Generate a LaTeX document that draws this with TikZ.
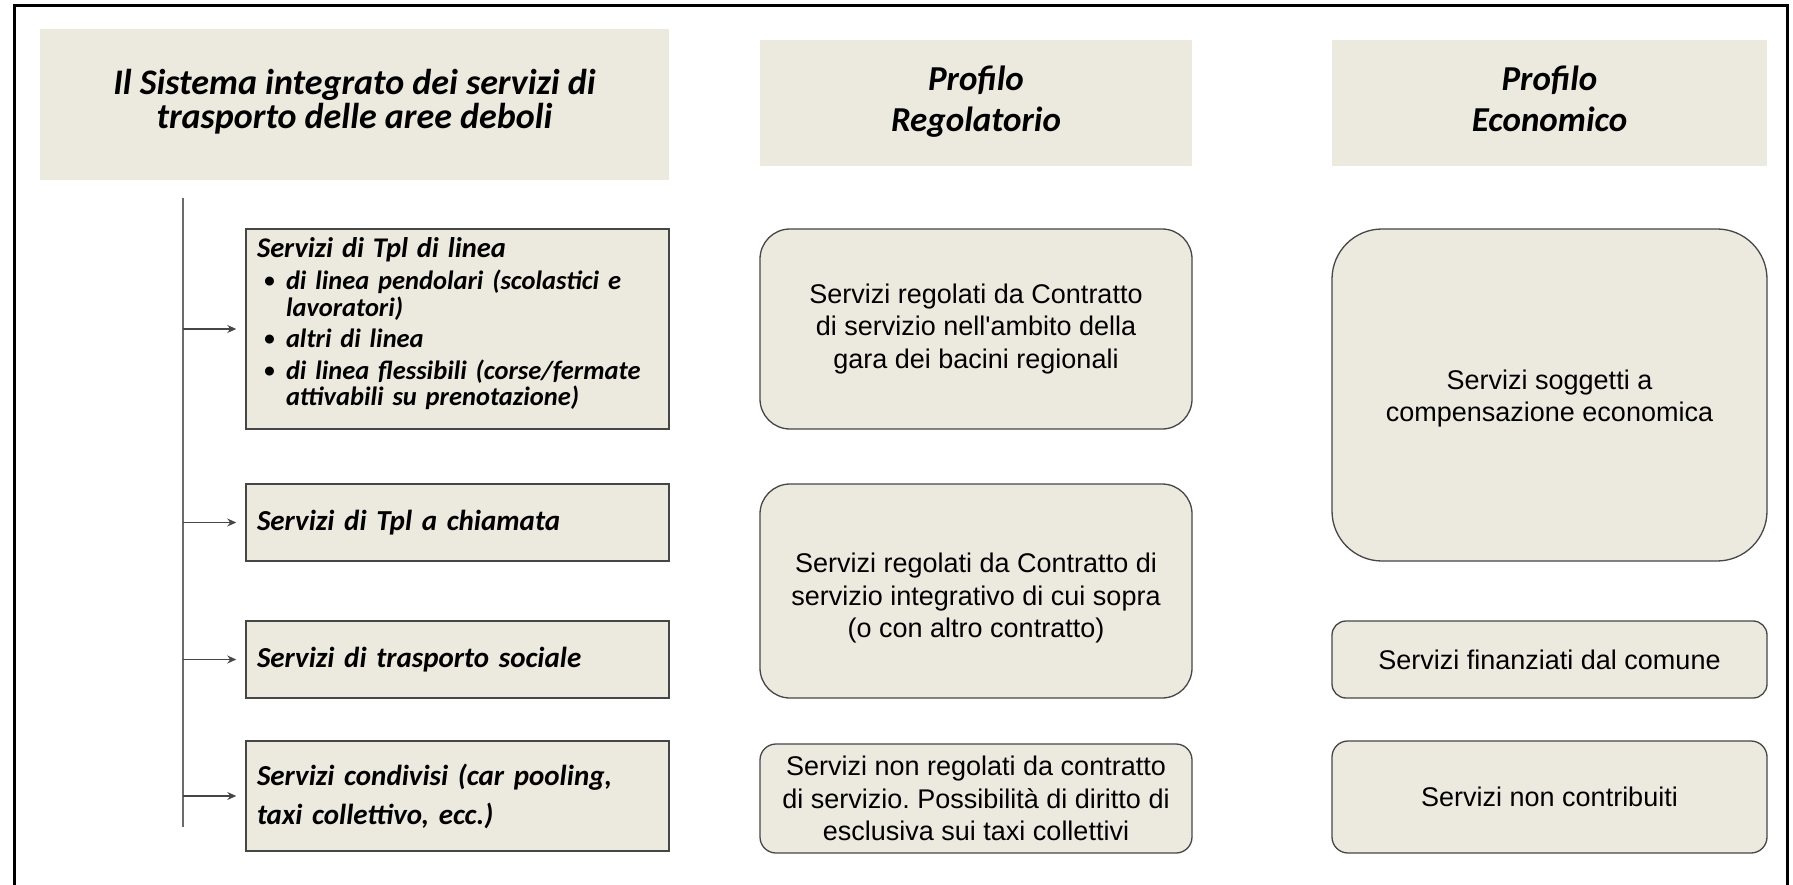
\documentclass[tikz,border=0pt]{standalone}
\usepackage{fontspec}
\usepackage{graphicx}
\setmainfont{Carlito}
\newfontfamily\arialf{Liberation Sans}
\usetikzlibrary{arrows.meta}
\definecolor{beige}{RGB}{236,234,223}
\definecolor{edge}{RGB}{70,70,70}
\frenchspacing
\tikzset{
  hdr/.style={fill=beige, inner sep=0pt, align=center, font=\bfseries\itshape\fontsize{35}{41}\selectfont},
  lbox/.style={draw=edge, line width=1.5pt, fill=beige, inner xsep=11pt, inner ysep=0pt,
    text width=401pt, align=left, minimum height=#1, font=\bfseries\itshape\fontsize{29}{39}\selectfont},
  rbox/.style={draw=edge, line width=1.3pt, fill=beige, inner sep=0pt, align=center,
    font=\arialf\fontsize{27}{32.5}\selectfont},
  arr/.style={draw=edge, line width=1.2pt, -{Stealth[length=9pt,width=8pt]}, shorten >=9pt},
  vline/.style={draw=edge!80, line width=1.5pt},
  frame/.style={draw=black, line width=3pt}
}
\newcommand{\blt}{\hspace*{7pt}\makebox[22pt][l]{\raisebox{0.08em}{\scalebox{0.8}{\textbullet}}}}
\newcommand{\bltind}{\hspace*{29pt}}
\begin{document}
\begin{tikzpicture}[x=1pt,y=-1pt]
\useasboundingbox (0,0) rectangle (1793,885);
\fill[white] (0,0) rectangle (1793,885);
\draw[frame] (14,890) -- (14,6) -- (1787,6) -- (1787,890);

% headers
\node[hdr, minimum width=629pt, minimum height=151pt, font=\bfseries\itshape\fontsize{36}{34}\selectfont] (title) at (354.5,104.5)
  {Il Sistema integrato dei servizi di\\trasporto delle aree deboli\rule[-12pt]{0pt}{1pt}};
\node[hdr, minimum width=432pt, minimum height=126pt] (hreg) at (976,103) {Profilo\\Regolatorio\rule[-9pt]{0pt}{1pt}};
\node[hdr, minimum width=435pt, minimum height=126pt] (heco) at (1549.5,103) {Profilo\\Economico\rule[-9pt]{0pt}{1pt}};

% left boxes
\node[lbox=200pt, font=\bfseries\itshape\fontsize{26.5}{26.5}\selectfont] (b1) at (457.5,329)
  {{\fontsize{28.5}{27}\selectfont Servizi di Tpl di linea}\\[6pt]
  \blt di linea pendolari (scolastici e\\
  \bltind lavoratori)\\[5pt]
  \blt altri di linea\\[5pt]
  \blt di linea flessibili (corse/fermate\\
  \bltind attivabili su prenotazione)\rule[-15pt]{0pt}{1pt}};
\node[lbox=77pt] (b2) at (457.5,522.5) {Servizi di Tpl a chiamata};
\node[lbox=77pt] (b3) at (457.5,659.5) {Servizi di trasporto sociale};
\node[lbox=110pt] (b4) at (457.5,796) {Servizi condivisi (car pooling,\\taxi collettivo, ecc.)};

% connectors
\coordinate (vtop) at (183,198);
\coordinate (vbot) at (183,827);
\draw[vline] (vtop) -- (vbot);
\foreach \b in {b1,b2,b3,b4}{
  \draw[arr] (vtop |- \b.west) -- (\b.west);
}

% regulatory
\node[rbox, minimum width=432pt, minimum height=200pt, rounded corners=30pt] (r1) at (976,329)
  {Servizi regolati da Contratto\\di servizio nell'ambito della\\gara dei bacini regionali};
\node[rbox, minimum width=432pt, minimum height=214pt, rounded corners=30pt] (r2) at (976,591)
  {\rule{0pt}{34pt}Servizi regolati da Contratto di\\servizio integrativo di cui sopra\\(o con altro contratto)};
\node[rbox, minimum width=432pt, minimum height=109pt, rounded corners=16pt] (r3) at (976,798.5)
  {Servizi non regolati da contratto\\di servizio. Possibilità di diritto di\\esclusiva sui taxi collettivi};

% economic
\node[rbox, minimum width=435pt, minimum height=332pt, rounded corners=50pt] (e1) at (1549.5,395)
  {\rule{0pt}{27pt}Servizi soggetti a\\compensazione economica};
\node[rbox, minimum width=435pt, minimum height=77pt, rounded corners=14pt] (e2) at (1549.5,659.5)
  {Servizi finanziati dal comune};
\node[rbox, minimum width=435pt, minimum height=112pt, rounded corners=16pt] (e3) at (1549.5,797)
  {Servizi non contribuiti};
\end{tikzpicture}
\end{document}
